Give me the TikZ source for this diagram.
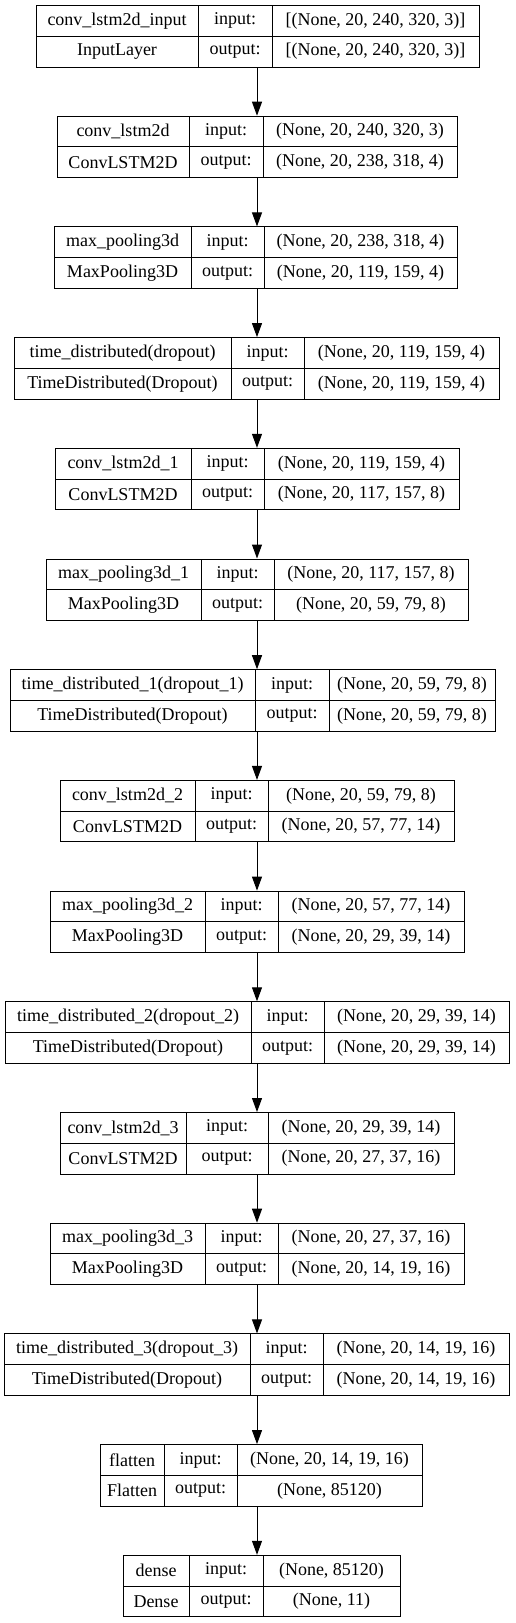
\documentclass[tikz,border=0pt]{standalone}
\usepackage{fontspec}
\setmainfont{Liberation Serif}
\usetikzlibrary{arrows.meta,positioning}

% one keras layer: index, left, divider 1, divider 2, right, name, class, input, output
\newcommand{\kblock}[9]{%
	\pgfmathsetmacro{\yt}{5.5+110.7*#1}
	\pgfmathsetmacro{\ym}{\yt+30.75}
	\pgfmathsetmacro{\yb}{\yt+61.5}
	\pgfmathsetmacro{\yu}{\yt+15.4}
	\pgfmathsetmacro{\yd}{\yt+46.1}
	\node[layer, minimum width={(#5-#2)*1pt}] (l#1) at ({(#2+#5)/2},\ym) {};
	\draw (#2,\ym) -- (#5,\ym);
	\draw (#3,\yt) -- (#3,\yb);
	\draw (#4,\yt) -- (#4,\yb);
	\node[cell] (l#1name) at ({(#2+#3)/2},\yu) {#6};
	\node[cell] (l#1cls) at ({(#2+#3)/2},\yd) {#7};
	\node[cell] (l#1ilab) at ({(#3+#4)/2},\yu) {input:};
	\node[cell] (l#1olab) at ({(#3+#4)/2},\yd) {output:};
	\node[cell] (l#1in) at ({(#4+#5)/2},\yu) {#8};
	\node[cell] (l#1out) at ({(#4+#5)/2},\yd) {#9};
}

\begin{document}
\begin{tikzpicture}[x=1pt, y=-1pt, line width=1pt,
	layer/.style = {draw, rectangle, minimum height=61.5pt, inner sep=0pt},
	cell/.style = {inner sep=0pt, font=\fontsize{18}{20}\selectfont},
	arr/.style = {-{Triangle[length=14pt, width=10pt]}}]
	\useasboundingbox (0,0) rectangle (515,1623);
	\coordinate (axis) at (257,0);
	\kblock{0}{36}{198}{272}{479}{conv\_lstm2d\_input}{InputLayer}{[(None, 20, 240, 320, 3)]}{[(None, 20, 240, 320, 3)]}
	\kblock{1}{57}{189}{263}{457}{conv\_lstm2d}{ConvLSTM2D}{(None, 20, 240, 320, 3)}{(None, 20, 238, 318, 4)}
	\kblock{2}{54}{191}{264}{457}{max\_pooling3d}{MaxPooling3D}{(None, 20, 238, 318, 4)}{(None, 20, 119, 159, 4)}
	\kblock{3}{14}{231}{304}{499}{time\_distributed(dropout)}{TimeDistributed(Dropout)}{(None, 20, 119, 159, 4)}{(None, 20, 119, 159, 4)}
	\kblock{4}{55}{191}{264}{459}{conv\_lstm2d\_1}{ConvLSTM2D}{(None, 20, 119, 159, 4)}{(None, 20, 117, 157, 8)}
	\kblock{5}{46}{201}{274}{468}{max\_pooling3d\_1}{MaxPooling3D}{(None, 20, 117, 157, 8)}{(None, 20, 59, 79, 8)}
	\kblock{6}{10}{255}{329}{495}{time\_distributed\_1(dropout\_1)}{TimeDistributed(Dropout)}{(None, 20, 59, 79, 8)}{(None, 20, 59, 79, 8)}
	\kblock{7}{60}{195}{268}{454}{conv\_lstm2d\_2}{ConvLSTM2D}{(None, 20, 59, 79, 8)}{(None, 20, 57, 77, 14)}
	\kblock{8}{50}{205}{278}{464}{max\_pooling3d\_2}{MaxPooling3D}{(None, 20, 57, 77, 14)}{(None, 20, 29, 39, 14)}
	\kblock{9}{5}{251}{324}{509}{time\_distributed\_2(dropout\_2)}{TimeDistributed(Dropout)}{(None, 20, 29, 39, 14)}{(None, 20, 29, 39, 14)}
	\kblock{10}{60}{186}{268}{454}{conv\_lstm2d\_3}{ConvLSTM2D}{(None, 20, 29, 39, 14)}{(None, 20, 27, 37, 16)}
	\kblock{11}{50}{205}{278}{464}{max\_pooling3d\_3}{MaxPooling3D}{(None, 20, 27, 37, 16)}{(None, 20, 14, 19, 16)}
	\kblock{12}{4}{250}{323}{509}{time\_distributed\_3(dropout\_3)}{TimeDistributed(Dropout)}{(None, 20, 14, 19, 16)}{(None, 20, 14, 19, 16)}
	\kblock{13}{100}{164}{237}{422}{flatten}{Flatten}{(None, 20, 14, 19, 16)}{(None, 85120)}
	\kblock{14}{123}{189}{263}{400}{dense}{Dense}{(None, 85120)}{(None, 11)}
	\foreach \i [evaluate=\i as \j using int(\i+1)] in {0,...,13}
		\draw[arr] (l\i.south -| axis) -- (l\j.north -| axis);
\end{tikzpicture}
\end{document}
